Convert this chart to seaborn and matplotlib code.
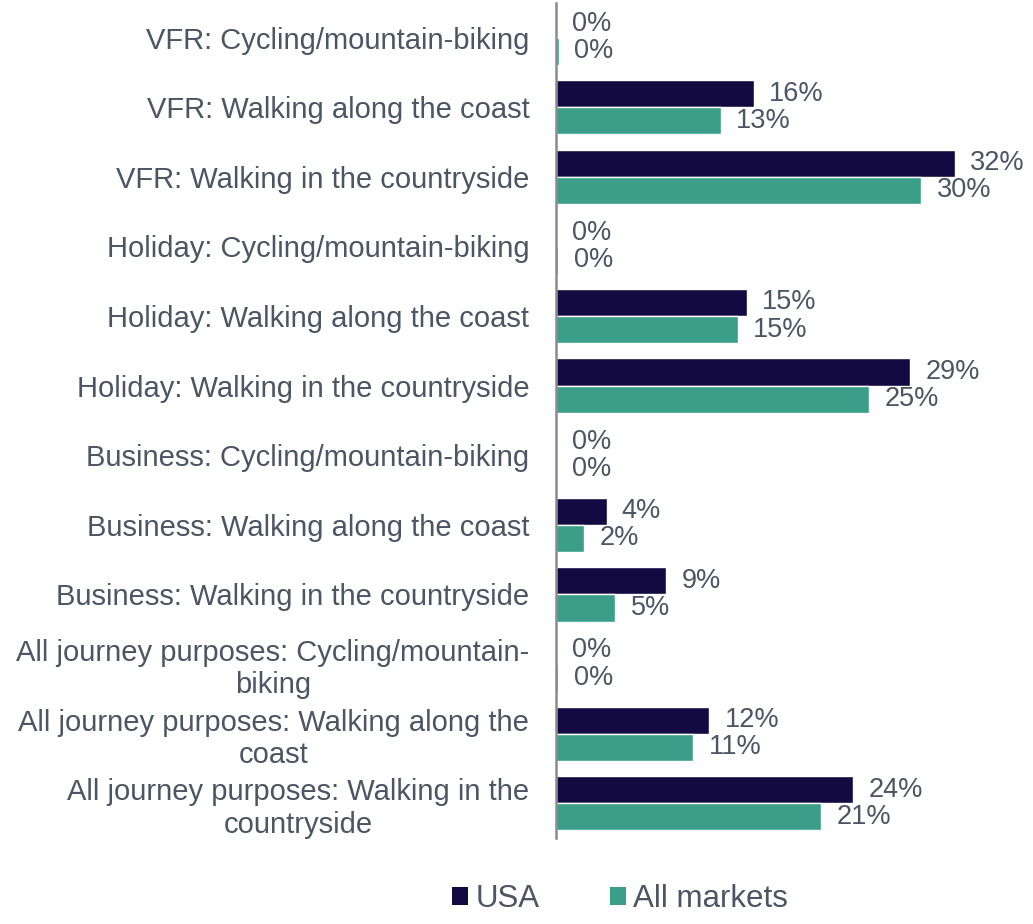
import matplotlib
matplotlib.use("Agg")
import matplotlib.pyplot as plt
import seaborn as sns
import pandas as pd
from matplotlib.patches import Patch

categories = [
    "VFR: Cycling/mountain-biking",
    "VFR: Walking along the coast",
    "VFR: Walking in the countryside",
    "Holiday: Cycling/mountain-biking",
    "Holiday: Walking along the coast",
    "Holiday: Walking in the countryside",
    "Business: Cycling/mountain-biking",
    "Business: Walking along the coast",
    "Business: Walking in the countryside",
    "All journey purposes: Cycling/mountain-\nbiking",
    "All journey purposes: Walking along the\ncoast",
    "All journey purposes: Walking in the\ncountryside",
]
usa = [0.1, 16.0, 32.2, 0.05, 15.4, 28.6, 0.05, 4.1, 8.9, 0.05, 12.4, 24.0]
all_markets = [0.25, 13.3, 29.5, 0.2, 14.7, 25.3, 0.1, 2.3, 4.8, 0.2, 11.1, 21.4]
series = ["USA", "All markets"]
colors = ["#140a42", "#3a9e88"]

df = pd.DataFrame({
    "category": categories * 2,
    "value": usa + all_markets,
    "market": [series[0]] * len(categories) + [series[1]] * len(categories),
})

sns.set_theme(style="white")
plt.rcParams["font.family"] = ["Liberation Sans", "DejaVu Sans"]
text_color = "#4b5563"

fig = plt.figure(figsize=(10.33, 9.24), dpi=100)
ax = fig.add_axes([0.538, 0.093, 0.42, 0.904])

sns.barplot(data=df, y="category", x="value", hue="market", orient="h",
            palette=colors, hue_order=series, width=0.78, ax=ax,
            saturation=1, legend=False, errorbar=None)

for cont in ax.containers:
    ax.bar_label(cont, labels=[f"{v:.0f}%" for v in cont.datavalues],
                 padding=11, fontsize=19.5, color=text_color)

ax.set_xlim(0, 35)
ax.set_xlabel("")
ax.set_ylabel("")
ax.set_xticks([])
ax.tick_params(axis="y", length=0, pad=19, labelsize=21, labelcolor=text_color)
for lab in ax.get_yticklabels():
    lab.set_multialignment("center")
for s in ["top", "right", "bottom"]:
    ax.spines[s].set_visible(False)
ax.spines["left"].set_color("#8a8a8a")
ax.spines["left"].set_linewidth(1.8)

handles = [Patch(facecolor=c, edgecolor="none") for c in colors]
fig.legend(handles, series, loc="center", bbox_to_anchor=(0.6, 0.027),
           ncol=2, frameon=False, fontsize=22.5, handlelength=0.52,
           handleheight=0.52, handletextpad=0.22, columnspacing=2.25,
           labelcolor=text_color, borderpad=0)

fig.savefig("out.png", dpi=100, facecolor="white")
